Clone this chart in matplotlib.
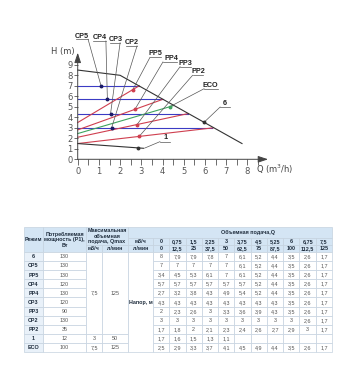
import numpy as np
import matplotlib
matplotlib.use('Agg')
import matplotlib.pyplot as plt
from matplotlib.patches import Rectangle

plt.rcParams['font.family'] = ['Liberation Sans', 'DejaVu Sans']

# ---------------- chart data (Q in m3/h, H in m) ----------------
curve6_q = [0, 2.0, 7.75]
curve6_h = [8.5, 8.0, 1.5]
curve1_q = [0, 3.1]
curve1_h = [1.5, 1.05]

cp_names = ['CP5', 'CP4', 'CP3', 'CP2']
cp_heads = [7.0, 5.7, 4.35, 3.0]
cp_qend = [2.88, 4.0, 5.2, 6.35]

pp_names = ['PP5', 'PP4', 'PP3', 'PP2']
pp_h0 = [3.5, 2.8, 2.1, 1.5]
pp_qend = [2.9, 4.0, 5.2, 6.4]
pp_hend = [7.0, 5.7, 4.35, 3.0]

eco_q = [0, 4.5]
eco_h = [2.45, 5.1]

# marker positions along each curve (Q)
mark_names = ['CP5', 'CP4', 'CP3', 'CP2', 'PP5', 'PP4', 'PP3', 'PP2', 'ECO', '6', '1']
mark_q = [1.1, 1.4, 1.55, 1.6, 2.6, 2.7, 2.8, 2.9, 4.35, 5.96, 2.85]

x_ticks = [0, 1, 2, 3, 4, 5, 6, 7, 8]
y_ticks = [0, 1, 2, 3, 4, 5, 6, 7, 8, 9]

# ---------------- table data ----------------
modes = ['6', 'CP5', 'PP5', 'CP4', 'PP4', 'CP3', 'PP3', 'CP2', 'PP2', '1', 'ECO']
power = [130, 130, 130, 120, 130, 120, 90, 130, 35, 12, 100]
qmax_m3h = [7.5, 7.5, 7.5, 7.5, 7.5, 7.5, 7.5, 7.5, 7.5, 3, 7.5]
qmax_lmin = [125, 125, 125, 125, 125, 125, 125, 125, 125, 50, 125]
flow_m3h = [0, 0.75, 1.5, 2.25, 3, 3.75, 4.5, 5.25, 6, 6.75, 7.5]
flow_lmin = [0, 12.5, 25, 37.5, 50, 62.5, 75, 87.5, 100, 112.5, 125]
head_6 = [8, 7.9, 7.9, 7.8, 7, 6.1, 5.2, 4.4, 3.5, 2.6, 1.7]
head_cp5 = [7, 7, 7, 7, 7, 6.1, 5.2, 4.4, 3.5, 2.6, 1.7]
head_pp5 = [3.4, 4.5, 5.3, 6.1, 7, 6.1, 5.2, 4.4, 3.5, 2.6, 1.7]
head_cp4 = [5.7, 5.7, 5.7, 5.7, 5.7, 5.7, 5.2, 4.4, 3.5, 2.6, 1.7]
head_pp4 = [2.7, 3.2, 3.8, 4.3, 4.9, 5.4, 5.2, 4.4, 3.5, 2.6, 1.7]
head_cp3 = [4.3, 4.3, 4.3, 4.3, 4.3, 4.3, 4.3, 4.3, 3.5, 2.6, 1.7]
head_pp3 = [2, 2.3, 2.6, 3, 3.3, 3.6, 3.9, 4.3, 3.5, 2.6, 1.7]
head_cp2 = [3, 3, 3, 3, 3, 3, 3, 3, 3, 2.6, 1.7]
head_pp2 = [1.7, 1.8, 2, 2.1, 2.3, 2.4, 2.6, 2.7, 2.9, 3, 1.7]
head_1 = [1.7, 1.6, 1.5, 1.3, 1.1, None, None, None, None, None, None]
head_eco = [2.5, 2.9, 3.3, 3.7, 4.1, 4.5, 4.9, 4.4, 3.5, 2.6, 1.7]
heads = [head_6, head_cp5, head_pp5, head_cp4, head_pp4, head_cp3,
         head_pp3, head_cp2, head_pp2, head_1, head_eco]


def fmt(v):
    if v is None:
        return ''
    return f'{v:g}'.replace('.', ',')


W, H = 347, 369
fig = plt.figure(figsize=(W / 100, H / 100), dpi=100)
fig.patch.set_facecolor('white')

# ================= table (pixel coordinates) =================
tax = fig.add_axes([0, 0, 1, 1])
tax.set_xlim(0, W)
tax.set_ylim(H, 0)
tax.axis('off')

grid = '#c5d2df'
hdr_bg = '#d4e5f4'
mode_bg = '#e9f1f9'
txt_hdr = '#1f2d3d'
txt_cell = '#555555'
fs = 3.9

col_mode = (24, 43)
col_pow = (43, 86)
col_qm3 = (86, 102)
col_ql = (102, 128)
col_lbl = (128, 153)
d0, d1 = 153, 332
dw = (d1 - d0) / len(flow_m3h)
y_top, yA, yB, yC = 227, 238, 245, 252
y_bot = 352
rh = (y_bot - yC) / len(modes)


def cell(x0, x1, y0, y1, text='', bg='white', bold=False, color=txt_cell, size=fs, ls=1.15):
    tax.add_patch(Rectangle((x0, y0), x1 - x0, y1 - y0, facecolor=bg,
                            edgecolor=grid, lw=0.5))
    if text:
        tax.text((x0 + x1) / 2, (y0 + y1) / 2 + 0.3, text, ha='center', va='center',
                 fontsize=size, color=color, fontweight='bold' if bold else 'normal',
                 linespacing=ls)


# header
cell(*col_mode, y_top, yC, 'Режим', hdr_bg, True, txt_hdr)
cell(*col_pow, y_top, yC, 'Потребляемая\nмощность (P1),\nВт', hdr_bg, True, txt_hdr)
cell(col_qm3[0], col_ql[1], y_top, yB, 'Максимальная\nобъемная\nподача, Qmax', hdr_bg, True, txt_hdr)
cell(*col_qm3, yB, yC, 'м3/ч', hdr_bg, True, txt_hdr)
cell(*col_ql, yB, yC, 'л/мин', hdr_bg, True, txt_hdr)
tax.add_patch(Rectangle((col_lbl[0], y_top), d1 - col_lbl[0], yA - y_top,
                        facecolor=hdr_bg, edgecolor=grid, lw=0.5))
tax.text(248, (y_top + yA) / 2 + 0.3, 'Объемная подача,Q', ha='center', va='center',
         fontsize=fs, color=txt_hdr, fontweight='bold')
cell(*col_lbl, yA, yB, 'м3/ч', hdr_bg, True, txt_hdr)
cell(*col_lbl, yB, yC, 'л/мин', hdr_bg, True, txt_hdr)
for i, (a, b) in enumerate(zip(flow_m3h, flow_lmin)):
    x0 = d0 + i * dw
    cell(x0, x0 + dw, yA, yB, fmt(a), hdr_bg, True, txt_hdr)
    cell(x0, x0 + dw, yB, yC, fmt(b), hdr_bg, True, txt_hdr)

# body
for r, (m, p, hs) in enumerate(zip(modes, power, heads)):
    y0 = yC + r * rh
    cell(*col_mode, y0, y0 + rh, m, mode_bg, True, txt_hdr)
    cell(*col_pow, y0, y0 + rh, str(p))
    for i, v in enumerate(hs):
        x0 = d0 + i * dw
        cell(x0, x0 + dw, y0, y0 + rh, fmt(v))


def merged(col, values):
    r = 0
    n = len(values)
    while r < n:
        s = r
        while r + 1 < n and values[r + 1] == values[s]:
            r += 1
        cell(col[0], col[1], yC + s * rh, yC + (r + 1) * rh, fmt(values[s]))
        r += 1


merged(col_qm3, qmax_m3h)
merged(col_ql, qmax_lmin)
cell(*col_lbl, yC, y_bot, 'Напор, м', 'white', True, txt_hdr)

# ================= chart =================
ux = 21.2   # px per m3/h
uy = 10.5   # px per m
x0px, y0px = 77.7, 159.3
xmax, ymax = 9.0, 10.4
ax = fig.add_axes([x0px / W, (H - y0px) / H, xmax * ux / W, ymax * uy / H])
ax.set_xlim(0, xmax)
ax.set_ylim(0, ymax)
ax.patch.set_alpha(0)
for s in ax.spines.values():
    s.set_visible(False)

blue = '#3b3bc4'
red = '#cf3f4f'
green = '#3fa35f'
black = '#333333'
lw = 0.8

lines = {}
for n, h, qe in zip(cp_names, cp_heads, cp_qend):
    ax.plot([0, qe], [h, h], color=blue, lw=lw, clip_on=False)
    lines[n] = ([0, qe], [h, h], blue)
for n, h0, qe, he in zip(pp_names, pp_h0, pp_qend, pp_hend):
    ax.plot([0, qe], [h0, he], color=red, lw=lw, clip_on=False)
    lines[n] = ([0, qe], [h0, he], red)
ax.plot(eco_q, eco_h, color=green, lw=lw, clip_on=False)
lines['ECO'] = (eco_q, eco_h, green)
ax.plot(curve6_q, curve6_h, color=black, lw=lw, clip_on=False)
lines['6'] = (curve6_q, curve6_h, black)
ax.plot(curve1_q, curve1_h, color=black, lw=lw, clip_on=False)
lines['1'] = (curve1_q, curve1_h, black)

# axes with arrows
ax.annotate('', xy=(8.98, 0), xytext=(0, 0), annotation_clip=False,
            arrowprops=dict(arrowstyle='-|>,head_length=0.6,head_width=0.2',
                            color='#444444', lw=0.7, shrinkA=0, shrinkB=0))
ax.annotate('', xy=(0, 10.15), xytext=(0, 0), annotation_clip=False,
            arrowprops=dict(arrowstyle='-|>,head_length=0.6,head_width=0.2',
                            color='#444444', lw=0.7, shrinkA=0, shrinkB=0))

ax.set_xticks(x_ticks)
ax.set_xticks([v + 0.5 for v in x_ticks], minor=True)
ax.set_yticks(y_ticks)
ax.set_xticklabels([str(v) for v in x_ticks])
ax.set_yticklabels([str(v) for v in y_ticks])
ax.tick_params(axis='x', which='both', direction='out', length=4.5, width=0.6,
               color='#555555', pad=1.2, labelsize=6, labelcolor='#555555')
ax.tick_params(axis='y', which='both', direction='out', length=2.8, width=0.6,
               color='#555555', pad=0.8, labelsize=6, labelcolor='#555555')
for t in ax.get_xticklabels() + ax.get_yticklabels():
    t.set_fontfamily(['DejaVu Sans'])

ax.text(-0.72, 10.25, 'H (m)', ha='center', va='center', fontsize=6,
        color='#444444', clip_on=False, family=['DejaVu Sans'])
ax.text(9.31, -0.95, 'Q (m$^3$/h)', ha='center', va='center', fontsize=6,
        color='#444444', clip_on=False, family=['DejaVu Sans'])

# labels with underline and leader lines
lab_text = [(0.19, 11.72), (1.02, 11.58), (1.80, 11.43), (2.55, 11.1),
            (3.67, 10.03), (4.4, 9.58), (5.08, 9.13), (5.67, 8.34),
            (6.27, 7.05), (6.95, 5.36), (4.15, 2.1)]
lab_uline = [(-0.08, 0.49, 11.43), (0.74, 1.33, 11.27), (1.52, 2.0, 11.1),
             (2.28, 2.8, 10.8), (3.41, 3.95, 9.71), (4.02, 4.67, 9.27),
             (4.83, 5.35, 8.82), (5.42, 5.93, 8.0), (5.96, 6.6, 6.72),
             (6.72, 7.2, 4.98), (3.88, 4.35, 1.68)]
lab_side = ['r', 'r', 'r', 'r', 'l', 'l', 'l', 'l', 'l', 'l', 'l']
lc = '#555555'
for n, q, (tx, ty), (u0, u1, uy_), side in zip(mark_names, mark_q, lab_text, lab_uline, lab_side):
    xs, ys, col = lines[n]
    hq = float(np.interp(q, xs, ys))
    ax.text(tx, ty, n, ha='center', va='center', fontsize=5.2, fontweight='bold',
            color='#222222', clip_on=False, family=['Liberation Sans'])
    ax.plot([u0, u1], [uy_, uy_], color=lc, lw=0.5, clip_on=False)
    sx = u1 if side == 'r' else u0
    ex = q if n != '1' else 3.15
    ey = hq if n != '1' else 1.06
    ax.plot([sx, ex], [uy_, ey], color=lc, lw=0.5, clip_on=False)
    ax.plot([q], [hq], 'o', ms=1.8, color=col if n not in ('CP5', 'CP4', 'CP3', 'CP2') else '#1a1a66',
            clip_on=False, zorder=5)

fig.savefig('out.png', dpi=100, facecolor='white')
